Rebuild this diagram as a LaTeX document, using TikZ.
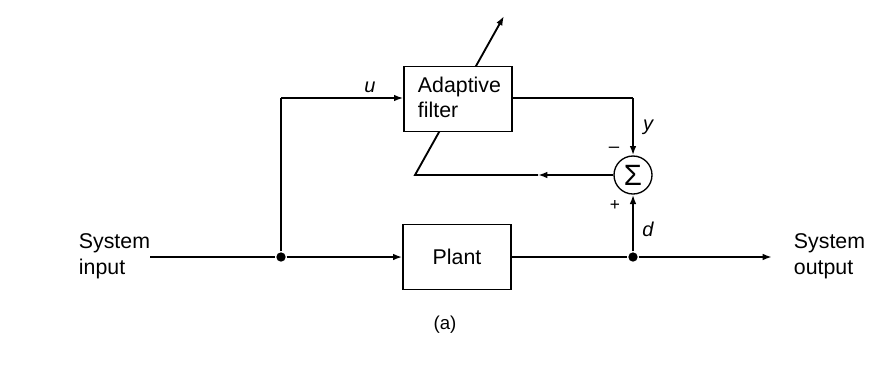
\documentclass[tikz,border=0pt]{standalone}
\usepackage{fontspec}
\setmainfont{Liberation Sans}
\usetikzlibrary{arrows.meta}
\begin{document}
\begin{tikzpicture}[x=0.75pt,y=-0.75pt,
  line width=1.4pt,
  tip/.style={-{Latex[length=7pt,width=5pt]}},
  blockbox/.style={draw,fill=white,line width=1pt,minimum width=81pt,minimum height=48.75pt,inner sep=0pt},
  lbl/.style={font=\fontsize{16}{19}\selectfont,inner sep=0pt},
  ital/.style={font=\fontsize{15}{18}\selectfont\itshape,inner sep=0pt},
  dot/.style={circle,fill,inner sep=0pt,minimum size=7pt}]
\useasboundingbox (0,0) rectangle (891,372);
% coordinates
\coordinate (in) at (150,257);
\coordinate (up) at (281,98);
\coordinate (out) at (772,257);
\coordinate (afr) at (633,98);
\coordinate (fbmid) at (538,175);
\coordinate (fbcorner) at (415,175);
\coordinate (adtip) at (504,16);
% adaptation line (passes behind the filter block)
\draw[tip] (fbmid) -- (fbcorner) -- (adtip);
% blocks
\node[blockbox] (af) at (458,99) {};
\node[lbl,align=left,anchor=north west] (aftext) at (417,76) {Adaptive\\filter};
\node[blockbox] (plant) at (457,257) {};
\node[lbl] (planttext) at (457,257) {Plant};
\node[draw,circle,line width=1pt,minimum size=28.5pt,inner sep=0pt] (sum) at (633,175) {\fontsize{22}{22}\selectfont Σ};
\node[dot] (j1) at (281,257) {};
\node[dot] (j2) at (633,257) {};
% connectors
\draw (in) -- (j1);
\draw[tip] (j1) -- (plant.west);
\draw (j1) -- (up);
\draw[tip] (up) -- (af.west |- up);
\draw (plant.east) -- (j2);
\draw[tip] (j2) -- (out);
\draw[tip] (j2) -- (sum.south);
\draw (af.east |- afr) -- (afr);
\draw[tip] (afr) -- (sum.north);
\draw[tip] (sum.west) -- (fbmid);
% labels
\node[ital] (u) at (370,87) {u};
\node[ital] (y) at (648,127) {y};
\node[ital] (d) at (648,229) {d};
\node[lbl] (minus) at (614,150) {\fontsize{14}{14}\selectfont --};
\node[lbl] (plus) at (615,205) {\fontsize{13}{13}\selectfont +};
\node[lbl,align=left,anchor=north west] (sysin) at (78,233) {System\\input};
\node[lbl,align=left,anchor=north west] (sysout) at (793,233) {System\\output};
\node[lbl] (cap) at (445,325) {\fontsize{14}{14}\selectfont (a)};
\end{tikzpicture}
\end{document}
